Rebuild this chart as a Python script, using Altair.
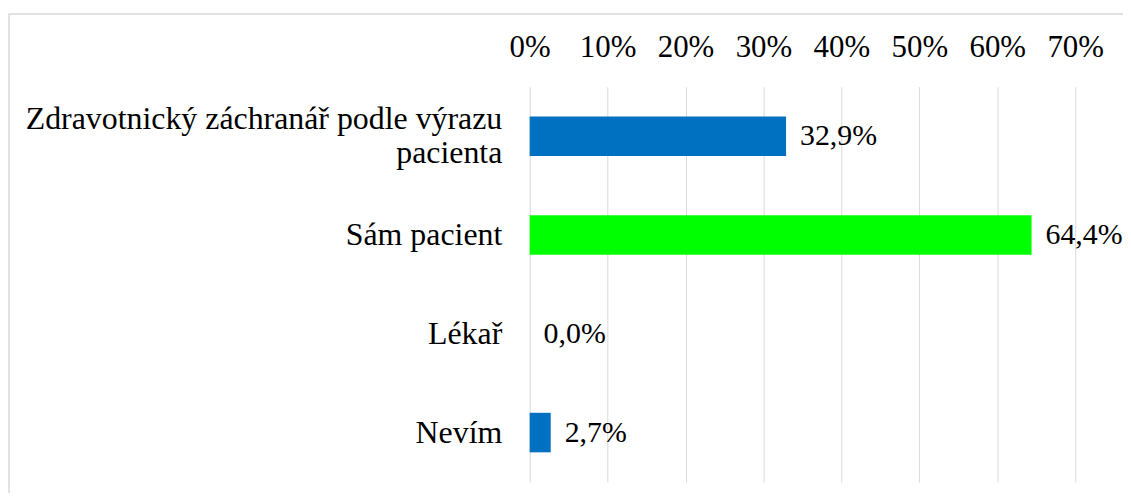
import altair as alt
import pandas as pd

categories = ["Zdravotnický záchranář podle výrazu pacienta", "Sám pacient", "Lékař", "Nevím"]
values = [32.9, 64.4, 0.0, 2.7]
groups = ["blue", "green", "blue", "blue"]
x_ticks = [0, 10, 20, 30, 40, 50, 60, 70]

df = pd.DataFrame({"kategorie": categories, "hodnota": values, "skupina": groups})

FONT = "Liberation Serif"
LONG = categories[0]

base = alt.Chart(df)

bars = base.mark_bar().encode(
    y=alt.Y(
        "kategorie:N",
        sort=categories,
        title=None,
        scale=alt.Scale(paddingInner=0.6, paddingOuter=0.3),
        axis=alt.Axis(
            domain=False,
            ticks=False,
            grid=False,
            labelFont=FONT,
            labelFontSize=32,
            labelColor="black",
            labelPadding=28,
            labelLimit=700,
            labelLineHeight=34,
            labelOffset={"condition": {"test": f"datum.label == '{LONG}'", "value": -17}, "value": 0},
            labelExpr=f"datum.label == '{LONG}' ? ['Zdravotnický záchranář podle výrazu', 'pacienta'] : datum.label",
        ),
    ),
    x=alt.X(
        "hodnota:Q",
        title=None,
        scale=alt.Scale(domain=[0, 70], nice=False),
        axis=alt.Axis(
            orient="top",
            values=x_ticks,
            domain=False,
            ticks=False,
            grid=True,
            gridColor="#D9D9D9",
            gridWidth=1,
            labelFont=FONT,
            labelFontSize=31,
            labelColor="black",
            labelPadding=23,
            labelFlush=False,
            labelOverlap=False,
            labelExpr="datum.value + '%'",
        ),
    ),
    color=alt.Color(
        "skupina:N",
        scale=alt.Scale(domain=["blue", "green"], range=["#0070C0", "#00FF00"]),
        legend=None,
    ),
)

labels = base.transform_calculate(
    txt="replace(format(datum.hodnota, '.1f'), '.', ',') + '%'"
).mark_text(
    align="left", baseline="middle", dx=14, font=FONT, fontSize=30, color="black"
).encode(
    y=alt.Y("kategorie:N", sort=categories),
    x=alt.X("hodnota:Q"),
    text="txt:N",
)

border = alt.Chart(pd.DataFrame({"a": [0]})).mark_rect(
    fill=None, stroke="#D9D9D9", strokeWidth=1.5, clip=False
).encode(
    x=alt.value(-523),
    x2=alt.value(620),
    y=alt.value(-73),
    y2=alt.value(440),
)

chart = alt.layer(border, bars, labels).properties(
    width=548,
    height=397,
    padding={"left": 524, "top": 78, "right": 48, "bottom": 10},
    autosize=alt.AutoSizeParams(type="none"),
).configure_view(stroke=None)

chart.save("out.html", embed_options={"renderer": "svg", "actions": False})
